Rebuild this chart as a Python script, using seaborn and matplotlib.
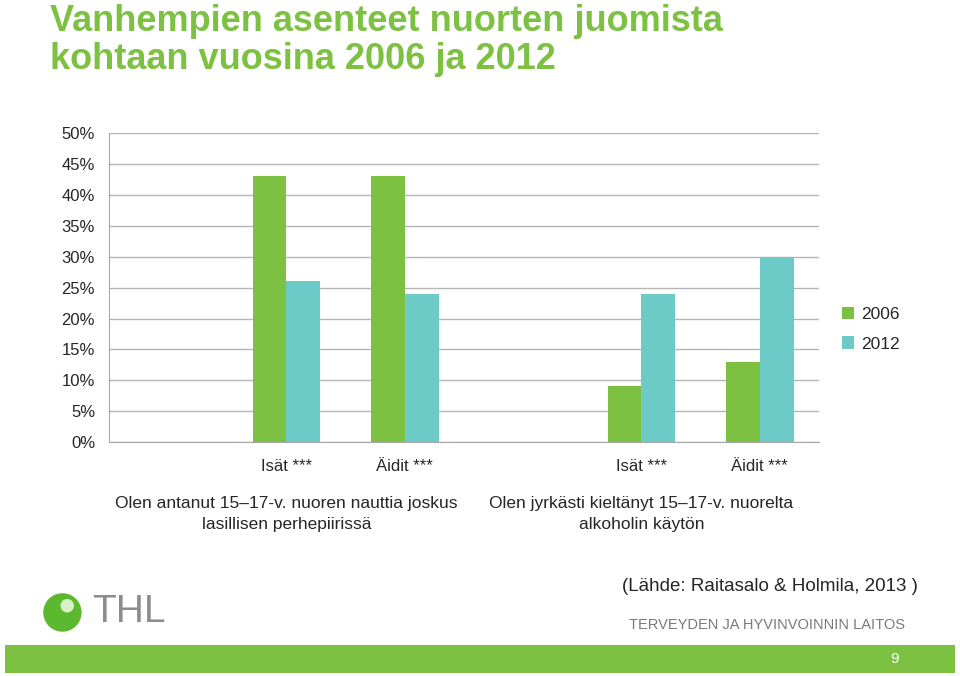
import pandas as pd
import matplotlib
matplotlib.use("Agg")
import matplotlib.pyplot as plt
import matplotlib.patches as mpatches
from matplotlib import font_manager
import seaborn as sns

# chart data
categories = ["c0", "c1", "c2", "c3", "c4", "c5"]
cat_labels = ["", "Isät ***", "Äidit ***", "", "Isät ***", "Äidit ***"]
years = ["2006", "2012"]
values_2006 = [None, 0.43, 0.43, None, 0.09, 0.13]
values_2012 = [None, 0.26, 0.24, None, 0.24, 0.30]
group_labels = ["Olen antanut 15\u201317-v. nuoren nauttia joskus\nlasillisen perhepiirissä",
                "Olen jyrkästi kieltänyt 15\u201317-v. nuorelta\nalkoholin käytön"]
group_pos = [1, 4]
title_lines = ["Vanhempien asenteet nuorten juomista", "kohtaan vuosina 2006 ja 2012"]

GREEN = "#7dc142"
TEAL = "#6ccac7"

names = {f.name for f in font_manager.fontManager.ttflist}
narrow = "Liberation Sans Narrow" if "Liberation Sans Narrow" in names else "Liberation Sans"

rows = []
for c, a, b in zip(categories, values_2006, values_2012):
    if a is not None:
        rows.append({"cat": c, "year": "2006", "value": a})
        rows.append({"cat": c, "year": "2012", "value": b})
df = pd.DataFrame(rows)

sns.set_style("white")
plt.rcParams["font.family"] = ["Liberation Sans", "DejaVu Sans"]

fig = plt.figure(figsize=(9.6, 6.76), dpi=100)
ax = fig.add_axes([0.1135, 0.346, 0.7396, 0.457])

sns.barplot(data=df, x="cat", y="value", hue="year", order=categories,
            hue_order=years, palette={"2006": GREEN, "2012": TEAL},
            width=0.57, saturation=1, linewidth=0, ax=ax, legend=True)

ax.set_ylim(0, 0.5)
ax.set_xlim(-0.5, 5.5)
ax.set_yticks([i * 0.05 for i in range(11)])
ax.set_yticklabels([f"{i * 5}%" for i in range(11)], fontsize=12)
ax.set_xticks(range(len(categories)))
ax.set_xticklabels(cat_labels, fontsize=12, family=narrow)
ax.set_xlabel("")
ax.set_ylabel("")
ax.yaxis.grid(True, color="#b5b5b5", linewidth=1)
ax.set_axisbelow(True)
for s in ["top", "right"]:
    ax.spines[s].set_visible(False)
for s in ["left", "bottom"]:
    ax.spines[s].set_color("#a8a8a8")
ax.tick_params(axis="y", length=5, color="#a8a8a8", width=1, pad=5)
ax.tick_params(axis="x", length=0, pad=12)

handles, labels = ax.get_legend_handles_labels()
ax.legend(handles, labels, loc="center left", bbox_to_anchor=(1.01, 0.366),
          frameon=False, fontsize=12.5, handlelength=0.7, handleheight=0.7,
          handletextpad=0.4, labelspacing=0.85)

trans = ax.get_xaxis_transform()
for pos, lab in zip(group_pos, group_labels):
    ax.text(pos, -0.175, lab, transform=trans, ha="center", va="top",
            fontsize=12.5, family=narrow, linespacing=1.5)

# title, one line at a time
for y, line in zip([1 - 31 / 676, 1 - 69 / 676], title_lines):
    fig.text(0.052, y, line, ha="left", va="baseline", fontsize=26,
             fontweight="bold", color=GREEN, family=narrow)

# footer
fig.text(0.956, 0.132, "(Lähde: Raitasalo & Holmila, 2013 )", ha="right", va="center",
         fontsize=13.5, family=narrow)
fig.text(0.943, 0.076, "TERVEYDEN JA HYVINVOINNIN LAITOS", ha="right", va="center",
         fontsize=10.5, color="#7a7a7a", family=narrow)
fig.text(0.096, 0.095, "THL", ha="left", va="center", fontsize=28, color="#8c8c8c",
         family=narrow)
fig.patches.append(mpatches.Ellipse((0.065, 0.094), 0.040, 0.057, transform=fig.transFigure,
                                    facecolor="#5cb82e", edgecolor="none"))
fig.patches.append(mpatches.Ellipse((0.070, 0.104), 0.014, 0.02, transform=fig.transFigure,
                                    facecolor="#d8f0c8", edgecolor="none"))
fig.patches.append(mpatches.Rectangle((0.005, 0.004), 0.99, 0.042, transform=fig.transFigure,
                                      facecolor=GREEN, edgecolor="none"))
fig.text(0.932, 0.025, "9", ha="center", va="center", fontsize=11, color="white")

fig.savefig("out.png", dpi=100)
